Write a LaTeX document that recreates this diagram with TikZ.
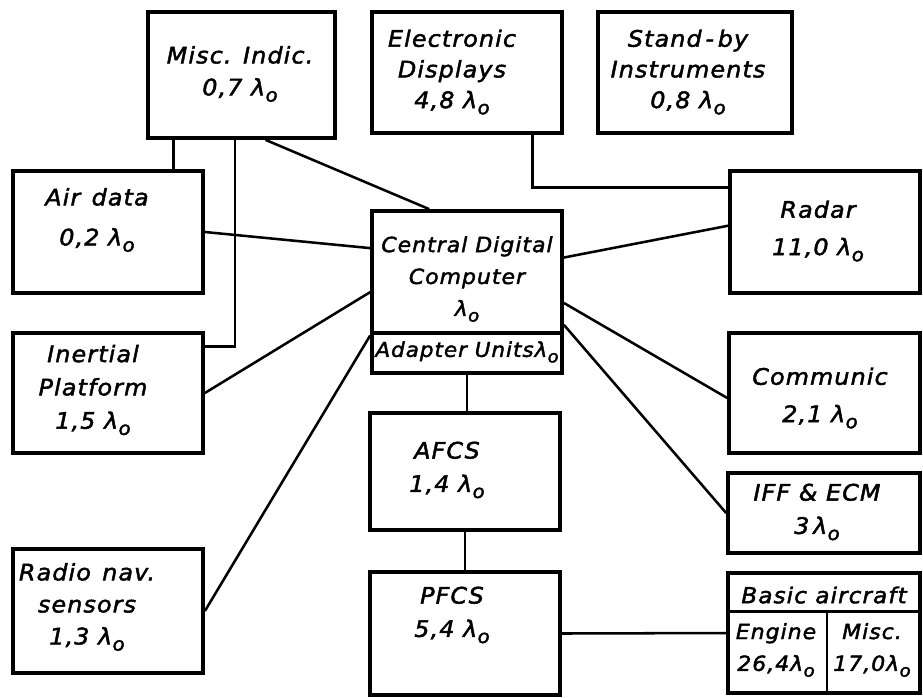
\documentclass[tikz,border=0pt]{standalone}
\usepackage{fontspec}
\setmainfont{DejaVu Sans}[ItalicFont={DejaVu Sans Oblique}, FakeStretch=1.05, LetterSpace=5, FakeBold=2]
\usetikzlibrary{fit,calc}
% failure rate symbol: lambda with a lowered small o
\newcommand{\lamo}{λ\kern0.02em\raisebox{-0.5ex}{\fontsize{14}{14}\selectfont o}}

\begin{document}
\begin{tikzpicture}[x=0.75pt,y=-0.75pt,
  blk/.style={draw, line width=2.8pt, inner sep=0pt},
  lbl/.style={font=\itshape\fontsize{17}{25}\selectfont, align=center, inner sep=0pt},
  wire/.style={line width=1.9pt}]
\useasboundingbox (0,0) rectangle (923,697);

% ---- boxes ----
\node[blk, fit={(148,12) (335,138)}] (misc) {};
\node[blk, fit={(372,12) (562,133)}] (elec) {};
\node[blk, fit={(598,12) (792,133)}] (stby) {};
\node[blk, fit={(13,171) (203,293)}] (air) {};
\node[blk, fit={(13,333) (203,453)}] (ins) {};
\node[blk, fit={(13,549) (203,673)}] (rnav) {};
\node[blk, fit={(372,211) (562,333)}] (cdc) {};
\node[blk, fit={(372,333) (562,373)}] (adapt) {};
\node[blk, fit={(370,413) (560,530)}] (afcs) {};
\node[blk, fit={(370,572) (560,695)}] (pfcs) {};
\node[blk, fit={(730,171) (920,293)}] (radar) {};
\node[blk, fit={(729,333) (920,453)}] (comm) {};
\node[blk, fit={(728,473) (920,553)}] (iff) {};
\node[blk, fit={(728,573) (920,693)}] (basic) {};
% subdivisions of the basic aircraft box
\coordinate (bsplitW) at ($(basic.north west)!0.325!(basic.south west)$);
\coordinate (bsplitE) at ($(basic.north east)!0.325!(basic.south east)$);
\coordinate (bmidT) at ($(bsplitW)!0.516!(bsplitE)$);
\coordinate (bmidB) at ($(basic.south west)!0.516!(basic.south east)$);
\draw[wire] (bsplitW) -- (bsplitE);
\draw[wire] (bmidT) -- (bmidB);

% ---- labels ----
\node[lbl, font=\itshape\fontsize{17}{24}\selectfont] (misc-t) at (240,74) {Misc. Indic.\\0,7 \lamo};
\node[lbl, font=\itshape\fontsize{17}{23}\selectfont] (elec-t) at (452,72) {Electronic\\Displays\\4,8 \lamo};
\node[lbl, font=\itshape\fontsize{17}{23}\selectfont] (stby-t) at (688,72) {Stand\,-\,by\\Instruments\\0,8 \lamo};
\node[lbl, font=\itshape\fontsize{17}{30}\selectfont] (air-t) at (97,220) {Air\enspace data\\0,2 \lamo};
\node[lbl, font=\itshape\fontsize{17}{26}\selectfont, scale=0.92] (cdc-t) at (467,279) {Central Digital\\Computer\\\lamo};
\node[lbl, scale=0.9] (adapt-t) at (467,352) {Adapter Units\lamo};
\node[lbl, font=\itshape\fontsize{17}{28}\selectfont] (radar-t) at (818,231) {Radar\\11,0 \lamo};
\node[lbl] (ins-t) at (93,390) {Inertial\\Platform\\1,5 \lamo};
\node[lbl, font=\itshape\fontsize{17}{28}\selectfont] (comm-t) at (820,398) {Communic\\2,1 \lamo};
\node[lbl] (afcs-t) at (447,470) {AFCS\\1,4 \lamo};
\node[lbl] (pfcs-t) at (452,615) {PFCS\\5,4 \lamo};
\node[lbl] (iff-t) at (817,512) {IFF \& ECM\\3\,\lamo};
\node[lbl, font=\itshape\fontsize{17}{24}\selectfont] (rnav-t) at (87,607) {Radio\enspace nav.\\sensors\\1,3 \lamo};
\node[lbl, scale=0.97] (basic-t) at (824,595) {Basic aircraft};
\node[lbl, font=\itshape\fontsize{17}{26}\selectfont, scale=0.92] (eng-t) at (776,650) {Engine\\26,4\lamo};
\node[lbl, font=\itshape\fontsize{17}{26}\selectfont, scale=0.92] (mscb-t) at (872,650) {Misc.\\17,0\lamo};

% ---- connectors ----
% Misc. Indic. links
\coordinate (mA) at ($(misc.south west)!0.144!(misc.south east)$);
\coordinate (mB) at ($(misc.south west)!0.465!(misc.south east)$);
\coordinate (mC) at ($(misc.south west)!0.626!(misc.south east)$);
\coordinate (insB) at ($(ins.north east)!0.125!(ins.south east)$);
\draw[wire] (mA) -- (mA |- air.north);
\draw[wire] (mB) |- (insB);
\draw[wire] (mC) -- ($(cdc.north west)!0.305!(cdc.north east)$);
% Electronic displays to radar
\coordinate (eA) at ($(elec.south west)!0.837!(elec.south east)$);
\coordinate (rA) at ($(radar.north west)!0.148!(radar.south west)$);
\draw[wire] (eA) |- (rA);
% sensors to the central computer
\draw[wire] (air.east) -- ($(cdc.north west)!0.31!(cdc.south west)$);
\draw[wire] (ins.east) -- ($(cdc.north west)!0.66!(cdc.south west)$);
\draw[wire] (rnav.east) -- ($(adapt.north west)!0.1!(adapt.south west)$);
% central computer to right-hand systems
\draw[wire] ($(cdc.north east)!0.385!(cdc.south east)$) -- ($(radar.north west)!0.45!(radar.south west)$);
\draw[wire] ($(cdc.north east)!0.746!(cdc.south east)$) -- ($(comm.north west)!0.54!(comm.south west)$);
\draw[wire] ($(cdc.north east)!0.92!(cdc.south east)$) -- (iff.west);
% flight control chain
\draw[wire] (adapt.south) -- (adapt.south |- afcs.north);
\draw[wire] (afcs.south) -- (afcs.south |- pfcs.north);
\draw[wire] (pfcs.east) -- (basic.west);
\end{tikzpicture}
\end{document}
